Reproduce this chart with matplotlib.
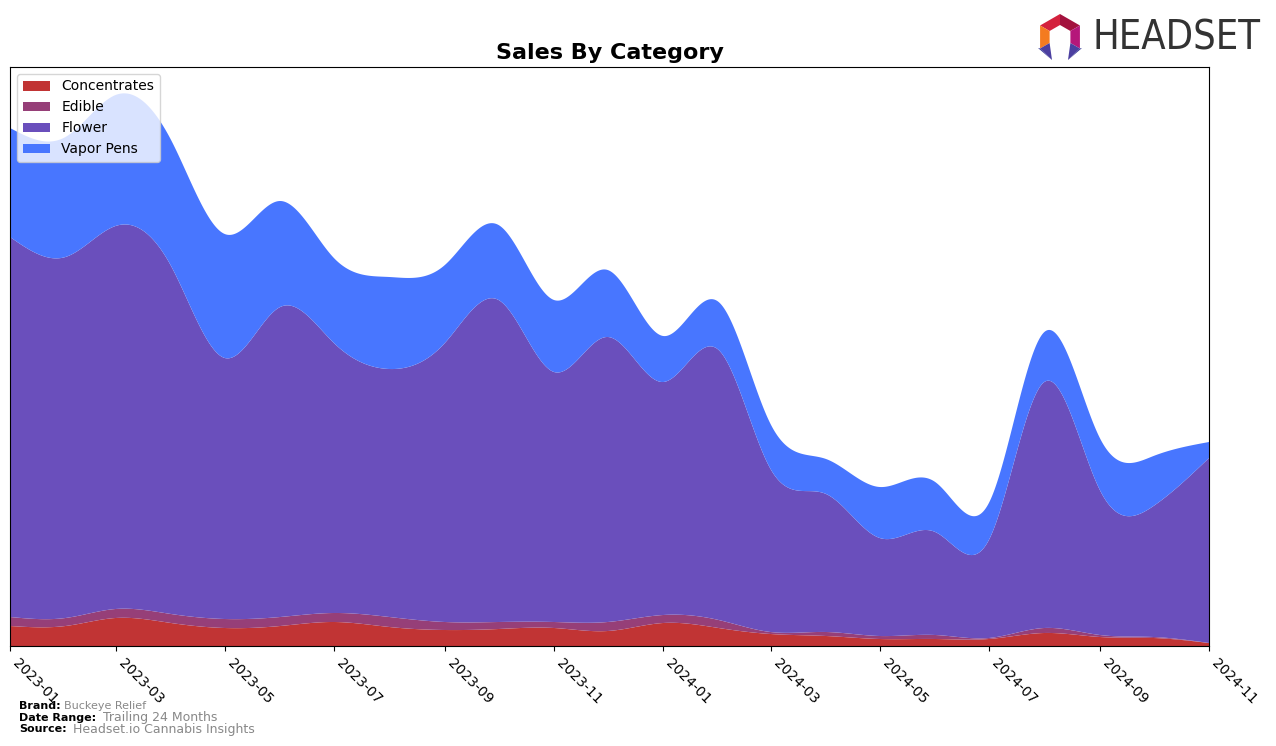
import numpy as np
import pandas as pd
import matplotlib
matplotlib.use("Agg")
import matplotlib.pyplot as plt
import matplotlib.dates as mdates
from matplotlib.patches import Polygon

# ---------------- data (monthly, arbitrary units) ----------------
months = pd.date_range("2023-01-01", "2024-11-01", freq="MS")
tick_months = months[::2]
categories = ["Concentrates", "Edible", "Flower", "Vapor Pens"]
concentrates = [20, 20, 28, 23, 18, 20, 24, 19, 16, 17, 18, 15, 23, 18, 12, 10, 7, 7, 7, 13, 9, 8, 3]
edible = [9, 8, 9, 9, 9, 9, 9, 10, 8, 7, 6, 9, 8, 8, 2, 4, 3, 4, 1, 5, 2, 1, 0]
flower = [380, 361, 383, 348, 261, 310, 270, 248, 279, 322, 250, 285, 233, 270, 163, 138, 98, 103, 98, 246, 145, 131, 185]
vapor = [109, 120, 131, 126, 124, 106, 85, 92, 78, 75, 72, 67, 46, 48, 45, 35, 51, 50, 37, 50, 52, 50, 16]
colors = ["#C13434", "#963F78", "#6A4FBC", "#4876FF"]


def natural_spline(x, y, xs):
    x = np.asarray(x, float)
    y = np.asarray(y, float)
    n = len(x)
    h = np.diff(x)
    A = np.zeros((n, n))
    b = np.zeros(n)
    A[0, 0] = 1
    A[-1, -1] = 1
    for i in range(1, n - 1):
        A[i, i - 1] = h[i - 1]
        A[i, i] = 2 * (h[i - 1] + h[i])
        A[i, i + 1] = h[i]
        b[i] = 3 * ((y[i + 1] - y[i]) / h[i] - (y[i] - y[i - 1]) / h[i - 1])
    c = np.linalg.solve(A, b)
    bc = (y[1:] - y[:-1]) / h - h * (2 * c[:-1] + c[1:]) / 3
    d = (c[1:] - c[:-1]) / (3 * h)
    idx = np.clip(np.searchsorted(x, xs, side="right") - 1, 0, n - 2)
    dx = xs - x[idx]
    return y[idx] + bc[idx] * dx + c[idx] * dx ** 2 + d[idx] * dx ** 3


xnum = mdates.date2num(months)
xs = np.linspace(xnum[0], xnum[-1], 1500)
series = [concentrates, edible, flower, vapor]
smooth = [np.clip(natural_spline(xnum, s, xs), 0, None) for s in series]

# ---------------- figure ----------------
fig = plt.figure(figsize=(12.76, 7.46), dpi=100)
ax = fig.add_axes([10 / 1276, 1 - 646 / 746, (1209 - 10) / 1276, (646 - 67) / 746])
ax.stackplot(mdates.num2date(xs), *smooth, labels=categories, colors=colors)
ax.set_xlim(months[0], months[-1])
ax.set_ylim(0, 579)
ax.set_yticks([])
ax.set_xticks(tick_months)
ax.xaxis.set_major_formatter(mdates.DateFormatter("%Y-%m"))
plt.setp(ax.get_xticklabels(), rotation=-45, ha="left", fontsize=10)
ax.set_title("Sales By Category", fontsize=16, fontweight="bold", pad=6)
ax.legend(loc="upper left", fontsize=10)

# footer
fig.text(19 / 1276, 1 - 706 / 746, "Brand:", fontsize=8, fontweight="bold", va="center")
fig.text(64 / 1276, 1 - 706 / 746, "Buckeye Relief", fontsize=8, color="#888888", va="center")
fig.text(19 / 1276, 1 - 718 / 746, "Date Range:", fontsize=8, fontweight="bold", va="center")
fig.text(103 / 1276, 1 - 718 / 746, "Trailing 24 Months", fontsize=9, color="#888888", va="center")
fig.text(19 / 1276, 1 - 729 / 746, "Source:", fontsize=8, fontweight="bold", va="center")
fig.text(73 / 1276, 1 - 729 / 746, "Headset.io Cannabis Insights", fontsize=9, color="#888888", va="center")

# logo
lax = fig.add_axes([0, 0, 1, 1], zorder=5)
lax.set_xlim(0, 1276)
lax.set_ylim(746, 0)
lax.axis("off")
cx, cy, ro, ri = 1060, 37, 23, 12


def pt(r, ang):
    a = np.deg2rad(ang)
    return (cx + r * np.cos(a), cy - r * np.sin(a))


segs = [(90, 150, "#D4213D"), (30, 90, "#A3123E"), (150, 210, "#F47B20"),
        (330, 390, "#B5177A")]
for a0, a1, col in segs:
    lax.add_patch(Polygon([pt(ro, a0), pt(ro, a1), pt(ri, a1), pt(ri, a0)], closed=True,
                          facecolor=col, edgecolor="none"))
# legs
lax.add_patch(Polygon([pt(ro, 210), pt(ri, 210), (1052, 60)], closed=True, facecolor="#4B3FA0", edgecolor="none"))
lax.add_patch(Polygon([pt(ro, 210), (1038, 48), (1052, 60)], closed=True, facecolor="#2E3192", edgecolor="none"))
lax.add_patch(Polygon([pt(ro, 330), pt(ri, 330), (1068, 60)], closed=True, facecolor="#4B3FA0", edgecolor="none"))
lax.add_patch(Polygon([pt(ro, 330), (1082, 48), (1068, 60)], closed=True, facecolor="#2E3192", edgecolor="none"))
lax.text(1092, 39, "HEADSET", fontsize=28.5, color="#333333", va="center", ha="left",
         fontfamily="DejaVu Sans", fontstretch="condensed")

fig.savefig("out.png", dpi=100)
